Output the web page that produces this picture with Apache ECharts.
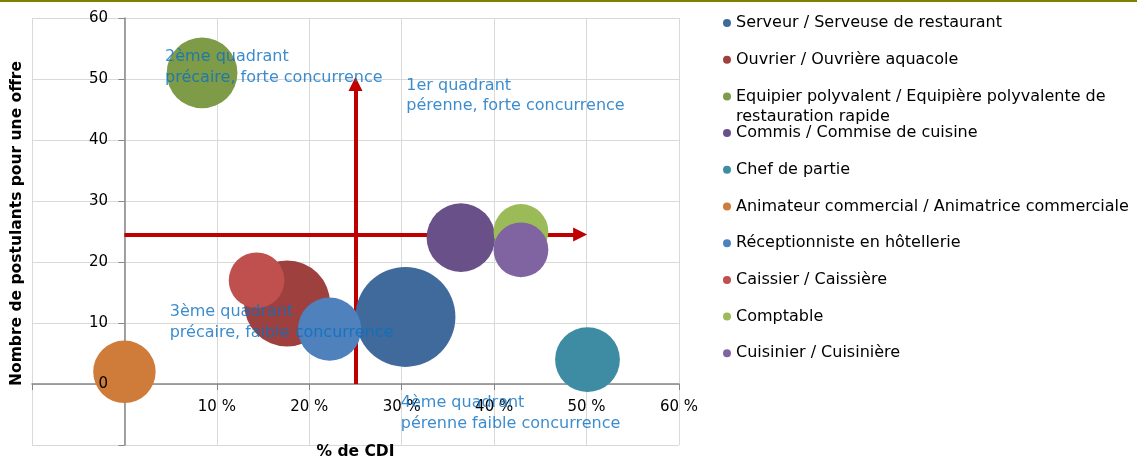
<!DOCTYPE html>
<html>
<head>
<meta charset="utf-8">
<script src="https://cdn.jsdelivr.net/npm/echarts@6/dist/echarts.min.js"></script>
<style>
  html, body { margin: 0; padding: 0; background: #fff; }
  #chart-container { width: 1137px; height: 457px; }
</style>
</head>
<body>
<div id="chart-container"></div>
<script>
// donnees
var metiers = [
    'Serveur / Serveuse de restaurant',
    'Ouvrier / Ouvrière aquacole',
    'Equipier polyvalent / Equipière polyvalente de restauration rapide',
    'Commis / Commise de cuisine',
    'Chef de partie',
    'Animateur commercial / Animatrice commerciale',
    'Réceptionniste en hôtellerie',
    'Caissier / Caissière',
    'Comptable',
    'Cuisinier / Cuisinière'
];
var pctCdi = [30.4, 17.6, 8.4, 36.4, 50.1, 0, 22.2, 14.3, 42.9, 42.9];
var postulants = [11, 13.2, 51, 24, 4, 2, 9, 17, 25, 22];
var nbOffres = [100, 74, 50, 47, 42, 39, 40, 31, 30, 30];

var xTicks = [-10, 0, 10, 20, 30, 40, 50, 60];
var yTicks = [-10, 0, 10, 20, 30, 40, 50, 60];

// seuils des quadrants (fleches)
var seuilCdi = 25;
var seuilPostulants = 24.5;
var flecheFinX = 49.3;
var flecheFinY = 49.2;

var quadrantTextes = [
    '2ème quadrant\nprécaire, forte concurrence',
    '1er quadrant\npérenne, forte concurrence',
    '3ème quadrant\nprécaire, faible concurrence',
    '4ème quadrant\npérenne faible concurrence'
];
var quadrantX = [4.4, 30.5, 4.9, 29.9];
var quadrantY = [53.6, 49.0, 11.85, -3.1];

var couleurs = ['#3f6a9b', '#9e413e', '#7e9b48', '#6a5088', '#3d8ca3',
                '#cf7c3a', '#4f81bd', '#c0504d', '#9bbb59', '#8064a2'];

var font = 'DejaVu Sans';
var dom = document.getElementById('chart-container');
var myChart = echarts.init(dom, null, { renderer: 'canvas' });

var series = metiers.map(function (m, i) {
    return {
        name: m,
        type: 'scatter',
        z: 2,
        data: [[pctCdi[i], postulants[i], nbOffres[i]]],
        symbolSize: function (d) { return Math.sqrt(d[2]) * 10; },
        itemStyle: { color: couleurs[i], opacity: 1 }
    };
});

// fleches
series.push({
    name: 'fleches',
    type: 'scatter',
    data: [],
    silent: true,
    markLine: {
        z: 1,
        silent: true,
        symbol: ['none', 'triangle'],
        symbolSize: [14, 14],
        label: { show: false },
        lineStyle: { color: '#c00000', width: 4, type: 'solid' },
        data: [
            [{ coord: [0, seuilPostulants] }, { coord: [flecheFinX, seuilPostulants] }],
            [{ coord: [seuilCdi, 0] }, { coord: [seuilCdi, flecheFinY] }]
        ]
    }
});

// textes des quadrants
series.push({
    name: 'quadrants',
    type: 'scatter',
    z: 10,
    silent: true,
    symbolSize: 0,
    data: quadrantTextes.map(function (t, i) {
        return { value: [quadrantX[i], quadrantY[i]], texte: t };
    }),
    label: {
        show: true,
        position: [0, -10],
        align: 'left',
        verticalAlign: 'top',
        color: '#0a6fc2',
        fontFamily: font,
        fontSize: 16,
        lineHeight: 20.5,
        formatter: function (p) { return p.data.texte; }
    }
});

var legends = metiers.map(function (m, i) {
    var deuxLignes = i === 2;
    return {
        data: [m],
        left: 723,
        top: 23 + i * 36.7 - (deuxLignes ? 30 : 10),
        orient: 'vertical',
        icon: 'circle',
        itemWidth: 8,
        itemHeight: 8,
        padding: 0,
        selectedMode: false,
        formatter: function (name) {
            // premiere ligne vide pour garder la pastille sur la 1re ligne
            return deuxLignes ? '\n' + name.replace(' de restauration', ' de\nrestauration') : name;
        },
        textStyle: {
            color: '#000',
            fontFamily: font,
            fontSize: 16,
            lineHeight: 20
        }
    };
});

var nameStyle = { color: '#000', fontWeight: 'bold', fontSize: 15.5, fontFamily: font };

var option = {
    animation: false,
    textStyle: { fontFamily: font },
    graphic: [{
        type: 'rect',
        left: 0, top: 0,
        shape: { width: 1137, height: 2 },
        style: { fill: '#808000' }
    }],
    legend: legends,
    grid: { left: 32, right: 458, top: 18, bottom: 12, containLabel: false, outerBoundsMode: 'none' },
    xAxis: [{
        type: 'value',
        min: xTicks[0],
        max: xTicks[xTicks.length - 1],
        interval: 10,
        axisLine: { onZero: true, lineStyle: { color: '#868686', width: 1.5 } },
        axisTick: { show: true, length: 6, lineStyle: { color: '#868686' } },
        axisLabel: { show: false },
        splitLine: { show: true, lineStyle: { color: '#d9d9d9', width: 1 } }
    }, {
        // labels et titre, places sur la ligne du zero
        type: 'value',
        position: 'bottom',
        offset: -61,
        min: xTicks[0],
        max: xTicks[xTicks.length - 1],
        interval: 10,
        name: '% de CDI',
        nameLocation: 'middle',
        nameGap: 60,
        nameTextStyle: nameStyle,
        axisLine: { show: false, onZero: false },
        axisTick: { show: false },
        splitLine: { show: false },
        axisLabel: {
            color: '#000', fontSize: 15, margin: 16,
            formatter: function (v) { return v > 0 ? v + ' %' : ''; }
        }
    }],
    yAxis: [{
        type: 'value',
        min: yTicks[0],
        max: yTicks[yTicks.length - 1],
        interval: 10,
        axisLine: { onZero: true, lineStyle: { color: '#868686', width: 1.5 } },
        axisTick: { show: true, length: 6, lineStyle: { color: '#868686' } },
        axisLabel: { show: false },
        splitLine: { show: true, lineStyle: { color: '#d9d9d9', width: 1 } }
    }, {
        // labels seuls, au-dessus des bulles
        type: 'value',
        position: 'left',
        offset: -92,
        z: 20,
        min: yTicks[0],
        max: yTicks[yTicks.length - 1],
        interval: 10,
        name: 'Nombre de postulants pour une offre',
        nameLocation: 'middle',
        nameGap: 99,
        nameTextStyle: Object.assign({ padding: [0, 0, 0, 16] }, nameStyle),
        axisLine: { show: false, onZero: false },
        axisTick: { show: false },
        splitLine: { show: false },
        axisLabel: {
            color: '#000', fontSize: 15, margin: 16,
            formatter: function (v) { return v >= 0 ? String(v) : ''; }
        }
    }],
    series: series
};

myChart.setOption(option);
window.addEventListener('resize', myChart.resize);
</script>
</body>
</html>
